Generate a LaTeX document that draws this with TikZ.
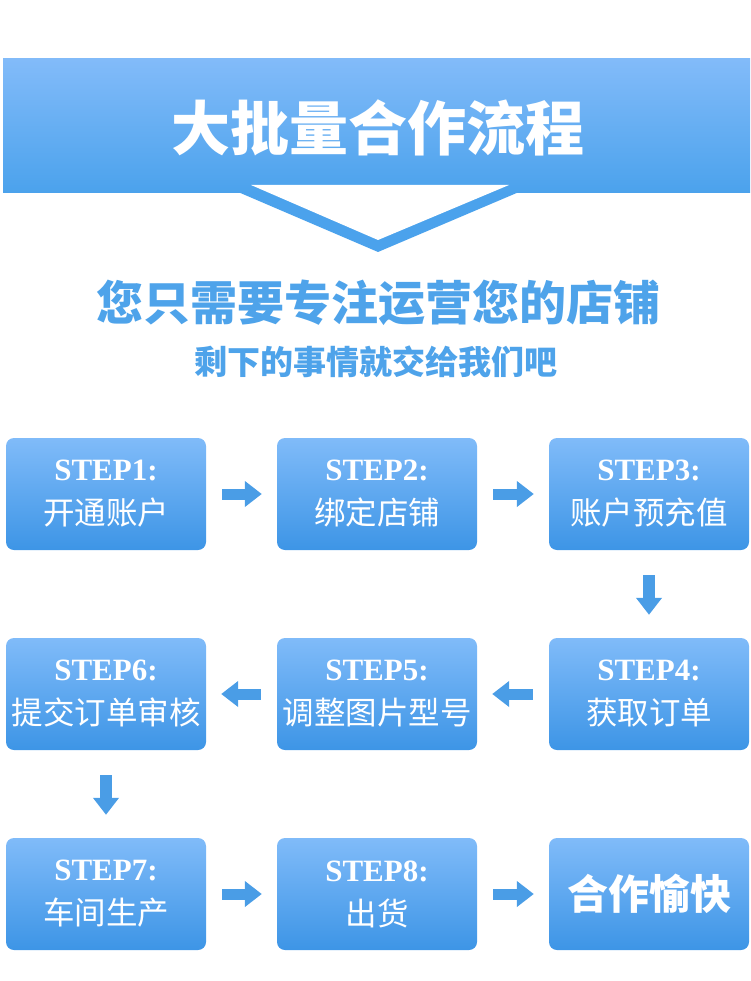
\documentclass[tikz,border=0pt]{standalone}
\usepackage{fontspec}
\setmainfont{Liberation Serif}
\newfontfamily\cjk{Noto Sans CJK SC}
\usetikzlibrary{arrows.meta}
\definecolor{bandtop}{HTML}{82BBF9}
\definecolor{bandbot}{HTML}{4BA2EC}
\definecolor{boxtop}{HTML}{80BBF9}
\definecolor{boxbot}{HTML}{3D95E6}
\definecolor{arrowblue}{HTML}{4A9DE6}
\definecolor{subblue}{HTML}{4EA3EA}
\begin{document}
\begin{tikzpicture}[x=1pt, y=-1pt,
    stepbox/.style={minimum width=200pt, minimum height=112pt, rounded corners=8pt,
        top color=boxtop, bottom color=boxbot, text=white, align=center, inner sep=0pt,
        font=\bfseries\fontsize{31}{33}\selectfont},
    flow/.style={draw=arrowblue, line width=11pt, -{Triangle[width=25pt,length=17pt]},
        shorten <=16pt, shorten >=15pt},
    vflow/.style={flow, line width=12pt, shorten <=25pt, shorten >=23pt}]
    \useasboundingbox (0,0) rectangle (750,981);

    % Header band with chevron
    \fill[bandbot] (238,192) -- (519,192) -- (378,252) -- cycle;
    \fill[top color=bandtop, bottom color=bandbot] (3,59) rectangle (750,193);
    \fill[white] (251,185) -- (509,185) -- (378,240) -- cycle;
    \node[text=white, font=\cjk\bfseries\fontsize{59}{62}\selectfont] (title) at (378,128) {大批量合作流程};

    % Slogans
    \node[text=subblue, font=\cjk\bfseries\fontsize{47}{50}\selectfont] (slogan) at (378,303) {您只需要专注运营您的店铺};
    \node[text=subblue, font=\cjk\bfseries\fontsize{33}{35}\selectfont] (tagline) at (376,362) {剩下的事情就交给我们吧};

    % Steps
    \foreach \n/\x/\y/\txt in {1/106/494/开通账户, 2/377/494/绑定店铺, 3/649/494/账户预充值,
                               4/649/694/获取订单, 5/377/694/调整图片型号, 6/106/694/提交订单审核,
                               7/106/894/车间生产, 8/377/894/出货} {
        \node[stepbox] (s\n) at (\x,\y) {STEP\n:\\[11pt]{\cjk\mdseries\fontsize{31.5}{32}\selectfont \txt}};
    }
    \node[stepbox, font=\cjk\bfseries\fontsize{41}{44}\selectfont] (s9) at (649,894) {合作愉快};

    % Arrows
    \draw[flow] (s1) -- (s2);
    \draw[flow] (s2) -- (s3);
    \draw[vflow] (s3) -- (s4);
    \draw[flow] (s4) -- (s5);
    \draw[flow] (s5) -- (s6);
    \draw[vflow] (s6) -- (s7);
    \draw[flow] (s7) -- (s8);
    \draw[flow] (s8) -- (s9);
\end{tikzpicture}
\end{document}
